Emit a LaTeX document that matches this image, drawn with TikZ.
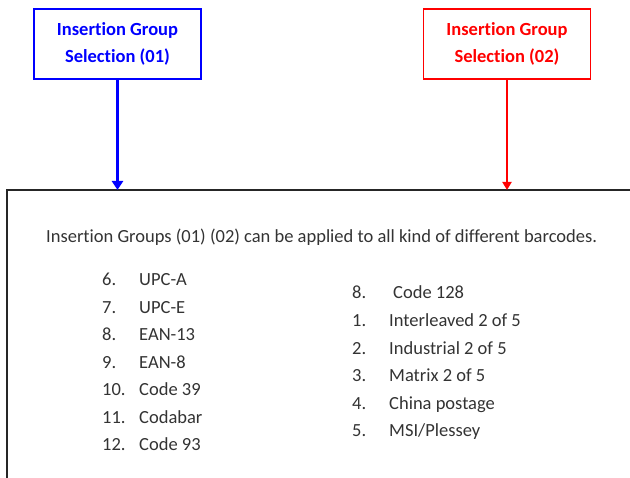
\documentclass[tikz,border=0pt]{standalone}
\usepackage{fontspec}
\setmainfont{Carlito}[Ligatures=NoCommon]
\usetikzlibrary{arrows.meta}
\definecolor{pblue}{RGB}{0,0,255}
\definecolor{pred}{RGB}{255,0,0}
\definecolor{ptext}{RGB}{51,51,51}
\tikzset{
  selbox/.style={draw, line width=1.2pt, minimum width=167pt, minimum height=70pt,
    align=center, inner sep=0pt, font=\bfseries\fontsize{18.5}{27}\selectfont},
  body/.style={anchor=base west, inner sep=0pt, text=ptext, font=\fontsize{18.5}{20}\selectfont},
  num/.style={body},
}
\begin{document}
\begin{tikzpicture}[x=1pt,y=-1pt]
\useasboundingbox (0,0) rectangle (630,478);
% selection boxes
\node[selbox, draw=pblue, text=pblue] (b1) at (117.5,44) {Insertion Group\\Selection (01)};
\node[selbox, draw=pred, text=pred] (b2) at (507,44) {Insertion Group\\Selection (02)};
% main frame (open to right and bottom)
\draw[line width=2pt, black!85] (7,480) -- (7,190) -- (632,190);
\coordinate (t1) at (117.5,190);
\coordinate (t2) at (507,190);
\draw[pblue, line width=3pt, -{Triangle[width=11pt,length=9pt]}] (b1.south) -- (t1);
\draw[pred, line width=1.8pt, -{Triangle[width=9pt,length=8pt]}] (b2.south) -- (t2);
% sentence
\node[body] (s) at (46,243) {Insertion Groups (01) (02) can be applied to all kind of different barcodes.};
% left list
\foreach \n/\t [count=\i from 0] in {6./UPC-A, 7./UPC-E, 8./EAN-13, 9./EAN-8, 10./Code 39, 11./Codabar, 12./Code 93}{
  \node[num] (ln\i) at (102,286+27.5*\i) {\n};
  \node[body] (lt\i) at (139,286+27.5*\i) {\t};
}
% right list
\node[num] (rn0) at (352,299) {8.};
\node[body] (rt0) at (393,299) {Code 128};
\foreach \n/\t [count=\i from 1] in {1./Interleaved 2 of 5, 2./Industrial 2 of 5, 3./Matrix 2 of 5, 4./China postage, 5./{MSI/Plessey}}{
  \node[num] (rn\i) at (352,299+27.6*\i) {\n};
  \node[body] (rt\i) at (389,299+27.6*\i) {\t};
}
\end{tikzpicture}
\end{document}
